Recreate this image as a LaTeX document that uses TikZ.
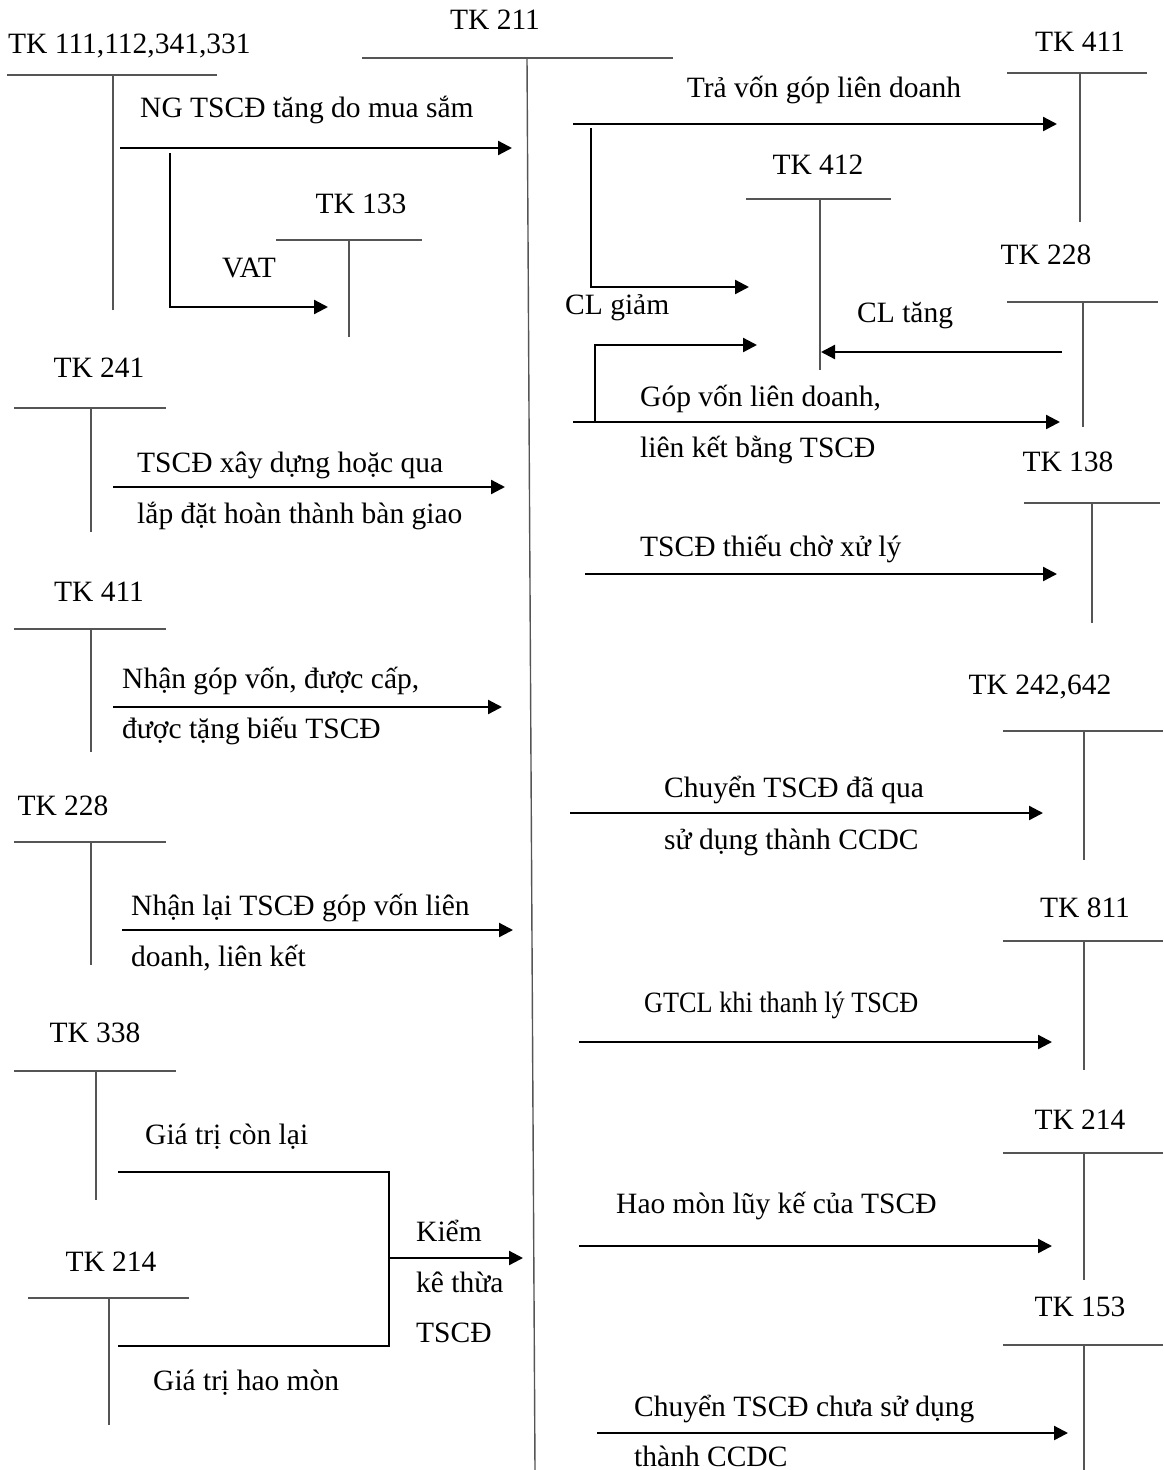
\documentclass[tikz,border=0pt]{standalone}
\usepackage{fontspec}
\setmainfont{Liberation Serif}
\usetikzlibrary{arrows.meta}
\definecolor{tgray}{HTML}{555555}
\begin{document}
\begin{tikzpicture}[x=1pt,y=-1pt,
  tline/.style={draw=tgray,line width=1.4pt},
  flow/.style={draw=black,line width=2.3pt,-{Triangle[length=14pt,width=14pt]}},
  joint/.style={draw=black,line width=2pt},
  acct/.style={inner sep=0pt,anchor=base,font=\fontsize{29.5}{34}\selectfont},
  lbl/.style={inner sep=0pt,anchor=base west,font=\fontsize{29.5}{34}\selectfont}]
\useasboundingbox (0,0) rectangle (1163,1470);

% ---------- T-accounts: name / left / right / stem x / top y / bottom y
\foreach \n/\xl/\xr/\xv/\yt/\yb in {
  t111/7/217/113/75/310,
  t133/276/422/349/240/337,
  t241/14/166/91/408/532,
  t411l/14/166/91/629/752,
  t228l/14/166/91/842/965,
  t338/14/176/96/1071/1200,
  t214l/28/189/109/1298/1425,
  t411r/1007/1147/1080/73/222,
  t412/746/891/820/199/370,
  t228r/1007/1158/1083/302/427,
  t138/1024/1160/1092/503/623,
  t242/1003/1163/1084/731/860,
  t811/1003/1163/1084/941/1070,
  t214r/1003/1163/1084/1153/1280,
  t153/1003/1163/1084/1345/1470}{
  \coordinate (\n-l) at (\xl,\yt);
  \coordinate (\n-r) at (\xr,\yt);
  \coordinate (\n-t) at (\xv,\yt);
  \coordinate (\n-b) at (\xv,\yb);
  \draw[tline] (\n-l) -- (\n-r);
  \draw[tline] (\n-t) -- (\n-b);
}
% TK 211 (main account)
\coordinate (t211-l) at (362,58);
\coordinate (t211-r) at (673,58);
\coordinate (t211-t) at (527,58);
\coordinate (t211-b) at (535,1470);
\draw[tline] (t211-l) -- (t211-r);
\draw[tline] (t211-t) -- (t211-b);

% ---------- account titles
\node[acct] (n211) at (495,29) {TK 211};
\node[acct,anchor=base west] (n111) at (8,53) {TK 111,112,341,331};
\node[acct] (n133) at (361,213) {TK 133};
\node[acct] (n241) at (99,377) {TK 241};
\node[acct] (n411l) at (99,601) {TK 411};
\node[acct] (n228l) at (63,815) {TK 228};
\node[acct] (n338) at (95,1042) {TK 338};
\node[acct] (n214l) at (111,1271) {TK 214};
\node[acct] (n411r) at (1080,51) {TK 411};
\node[acct] (n412) at (818,174) {TK 412};
\node[acct] (n228r) at (1046,264) {TK 228};
\node[acct] (n138) at (1068,471) {TK 138};
\node[acct] (n242) at (1040,694) {TK 242,642};
\node[acct] (n811) at (1085,917) {TK 811};
\node[acct] (n214r) at (1080,1129) {TK 214};
\node[acct] (n153) at (1080,1316) {TK 153};

% ---------- left side entries
\coordinate (a1s) at (120,148);  \coordinate (a1e) at (512,148);
\draw[flow] (a1s) -- (a1e);
\node[lbl] (l1) at (140,117) {NG TSCĐ tăng do mua sắm};
\coordinate (vs) at (170,153);  \coordinate (ve) at (328,307);
\draw[flow] (vs) |- (ve);
\node[lbl] (lvat) at (222,277) {VAT};

\coordinate (a2s) at (113,487);  \coordinate (a2e) at (505,487);
\draw[flow] (a2s) -- (a2e);
\node[lbl] (l2a) at (137,472) {TSCĐ xây dựng hoặc qua};
\node[lbl] (l2b) at (137,523) {lắp đặt hoàn thành bàn giao};

\coordinate (a3s) at (113,707);  \coordinate (a3e) at (502,707);
\draw[flow] (a3s) -- (a3e);
\node[lbl] (l3a) at (122,688) {Nhận góp vốn, được cấp,};
\node[lbl] (l3b) at (122,738) {được tặng biếu TSCĐ};

\coordinate (a4s) at (122,930);  \coordinate (a4e) at (513,930);
\draw[flow] (a4s) -- (a4e);
\node[lbl] (l4a) at (131,915) {Nhận lại TSCĐ góp vốn liên};
\node[lbl] (l4b) at (131,966) {doanh, liên kết};

\coordinate (gcl) at (118,1172);  \coordinate (jt) at (389,1172);
\coordinate (jb) at (389,1346);   \coordinate (ghm) at (118,1346);
\coordinate (jm) at (389,1258);   \coordinate (kke) at (523,1258);
\draw[joint] (gcl) -- (jt) -- (jb) -- (ghm);
\draw[flow] (jm) -- (kke);
\node[lbl] (l5a) at (145,1144) {Giá trị còn lại};
\node[lbl] (l5b) at (153,1390) {Giá trị hao mòn};
\node[lbl] (l5c) at (416,1241) {Kiểm};
\node[lbl] (l5d) at (416,1292) {kê thừa};
\node[lbl] (l5e) at (416,1342) {TSCĐ};

% ---------- right side entries
\coordinate (b1s) at (573,124);  \coordinate (b1e) at (1057,124);
\draw[flow] (b1s) -- (b1e);
\node[lbl,anchor=base] (r1) at (824,97) {Trả vốn góp liên doanh};
\coordinate (cgs) at (591,128);  \coordinate (cge) at (749,287);
\draw[flow] (cgs) |- (cge);
\node[lbl] (rcg) at (565,314) {CL giảm};

\coordinate (cts) at (1062,352);  \coordinate (cte) at (821,352);
\draw[flow] (cts) -- (cte);
\node[lbl] (rct) at (857,322) {CL tăng};

\coordinate (b2s) at (573,422);  \coordinate (b2e) at (1060,422);
\draw[flow] (b2s) -- (b2e);
\coordinate (gbs) at (595,422);  \coordinate (gbe) at (757,345);
\draw[flow] (gbs) |- (gbe);
\node[lbl] (r2a) at (640,406) {Góp vốn liên doanh,};
\node[lbl] (r2b) at (640,457) {liên kết bằng TSCĐ};

\coordinate (b3s) at (585,574);  \coordinate (b3e) at (1057,574);
\draw[flow] (b3s) -- (b3e);
\node[lbl] (r3) at (640,556) {TSCĐ thiếu chờ xử lý};

\coordinate (b4s) at (570,813);  \coordinate (b4e) at (1043,813);
\draw[flow] (b4s) -- (b4e);
\node[lbl] (r4a) at (664,797) {Chuyển TSCĐ đã qua};
\node[lbl] (r4b) at (664,849) {sử dụng thành CCDC};

\coordinate (b5s) at (579,1042);  \coordinate (b5e) at (1052,1042);
\draw[flow] (b5s) -- (b5e);
\node[lbl] (r5) at (644,1012) {\scalebox{0.89}[1]{GTCL khi thanh lý TSCĐ}};

\coordinate (b6s) at (579,1246);  \coordinate (b6e) at (1052,1246);
\draw[flow] (b6s) -- (b6e);
\node[lbl] (r6) at (616,1213) {Hao mòn lũy kế của TSCĐ};

\coordinate (b7s) at (597,1433);  \coordinate (b7e) at (1068,1433);
\draw[flow] (b7s) -- (b7e);
\node[lbl] (r7a) at (634,1416) {Chuyển TSCĐ chưa sử dụng};
\node[lbl] (r7b) at (634,1466) {thành CCDC};
\end{tikzpicture}
\end{document}
